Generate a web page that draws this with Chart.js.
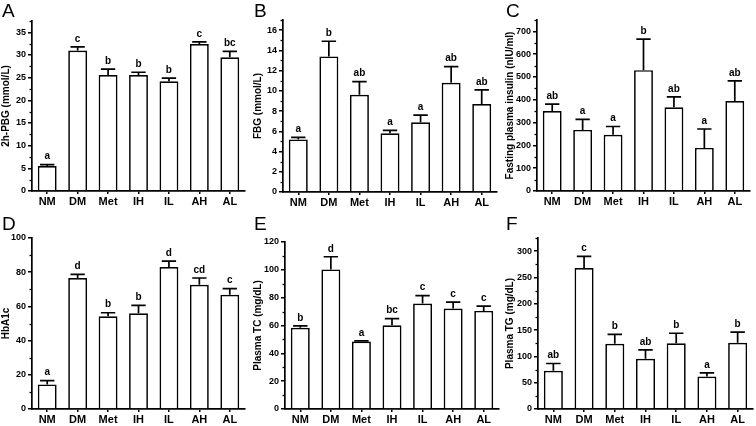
<!DOCTYPE html>
<html lang="en">
<head>
<meta charset="UTF-8">
<title>Panels</title>
<script src="https://cdn.jsdelivr.net/npm/chart.js"></script>
<style>
  body { margin: 0; background: #fff; }
  #wrap { position: relative; width: 756px; height: 426px; overflow: hidden; }
  .panel { position: absolute; width: 252px; height: 213px; }
  .tag { position: absolute; left: 2px; top: 0px; font: 19px "Liberation Sans", Arial, sans-serif; color: #000; }
</style>
</head>
<body>
<div id="wrap"></div>

<script>
// groups
var categories = ['NM', 'DM', 'Met', 'IH', 'IL', 'AH', 'AL'];

// A - 2h-PBG
var pbgMean = [5.5, 31.0, 25.6, 25.6, 24.2, 32.4, 29.5];
var pbgSem = [0.3, 0.8, 1.3, 0.6, 0.7, 0.5, 1.3];
var pbgLetters = ['a', 'c', 'b', 'b', 'b', 'c', 'bc'];

// B - FBG
var fbgMean = [5.2, 13.4, 9.6, 5.8, 6.9, 10.8, 8.7];
var fbgSem = [0.2, 1.5, 1.3, 0.3, 0.7, 1.6, 1.4];
var fbgLetters = ['a', 'b', 'ab', 'a', 'a', 'ab', 'ab'];

// C - fasting insulin
var insMean = [351, 268, 247, 530, 367, 189, 395];
var insSem = [30, 46, 36, 136, 46, 83, 88];
var insLetters = ['ab', 'a', 'a', 'b', 'ab', 'a', 'ab'];

// D - HbA1c
var hbaMean = [14.4, 76.6, 54.2, 56.0, 83.0, 72.7, 66.8];
var hbaSem = [2.2, 2.1, 2.1, 4.6, 3.5, 3.9, 3.6];
var hbaLetters = ['a', 'd', 'b', 'b', 'd', 'cd', 'c'];

// E - plasma TC
var tcMean = [58.3, 100.3, 48.5, 60.2, 75.8, 72.2, 70.5];
var tcSem = [1.5, 9.1, 0.5, 4.8, 5.6, 4.6, 3.4];
var tcLetters = ['b', 'd', 'a', 'bc', 'c', 'c', 'c'];

// F - plasma TG
var tgMean = [72.5, 268, 124, 95.4, 125, 61.7, 126];
var tgSem = [14, 22, 18, 17, 19, 7, 20];
var tgLetters = ['ab', 'c', 'b', 'ab', 'b', 'a', 'b'];

Chart.defaults.font.family = '"Liberation Sans", Arial, sans-serif';
Chart.defaults.color = '#000';

var panels = [
  { tag: 'A', x: 0,   y: 0,   title: '2h-PBG (mmol/L)', mean: pbgMean, sem: pbgSem, letters: pbgLetters,
    max: 37.5, step: 5, minor: 2.5, left: 32, right: 245, top: 21, bottom: 191 },
  { tag: 'B', x: 252, y: 0,   title: 'FBG (mmol/L)', mean: fbgMean, sem: fbgSem, letters: fbgLetters,
    max: 17, step: 2, minor: 1, left: 31, right: 245, top: 20, bottom: 192 },
  { tag: 'C', x: 504, y: 0,   title: 'Fasting plasma insulin (nIU/ml)', mean: insMean, sem: insSem, letters: insLetters,
    max: 750, step: 100, minor: 50, left: 33, right: 246, top: 20, bottom: 191 },
  { tag: 'D', x: 0,   y: 213, title: 'HbA1c', mean: hbaMean, sem: hbaSem, letters: hbaLetters,
    max: 100, step: 20, minor: 10, left: 32, right: 245, top: 25, bottom: 196 },
  { tag: 'E', x: 252, y: 213, title: 'Plasma TC (mg/dL)', mean: tcMean, sem: tcSem, letters: tcLetters,
    max: 120, step: 20, minor: 10, left: 33, right: 247, top: 29, bottom: 196 },
  { tag: 'F', x: 504, y: 213, title: 'Plasma TG (mg/dL)', mean: tgMean, sem: tgSem, letters: tgLetters,
    max: 325, step: 50, minor: 25, left: 34, right: 249, top: 25, bottom: 196 }
];

// error bars (upper only) + letters above them
var errorBars = {
  id: 'errorBars',
  afterDatasetsDraw: function (chart) {
    var ds = chart.data.datasets[0];
    var meta = chart.getDatasetMeta(0);
    var ys = chart.scales.y;
    var ctx = chart.ctx;
    ctx.save();
    ctx.strokeStyle = '#000';
    ctx.fillStyle = '#000';
    ctx.lineWidth = 1.7;
    ctx.font = 'bold 10px "Liberation Sans", Arial, sans-serif';
    ctx.textAlign = 'center';
    ctx.textBaseline = 'bottom';
    meta.data.forEach(function (bar, i) {
      var yTop = ys.getPixelForValue(ds.data[i] + ds.sem[i]);
      var half = bar.width * 0.38;
      ctx.beginPath();
      ctx.moveTo(bar.x, bar.y);
      ctx.lineTo(bar.x, yTop);
      ctx.moveTo(bar.x - half, yTop);
      ctx.lineTo(bar.x + half, yTop);
      ctx.stroke();
      ctx.fillText(ds.letters[i], bar.x, yTop - 3);
    });
    ctx.restore();
  }
};

// small minor ticks on the y axis
var minorTicks = {
  id: 'minorTicks',
  afterDraw: function (chart) {
    var ds = chart.data.datasets[0];
    var ys = chart.scales.y;
    var ctx = chart.ctx;
    var x = chart.chartArea.left;
    ctx.save();
    ctx.strokeStyle = '#000';
    ctx.lineWidth = 1.3;
    for (var v = ds.minor; v <= ys.max + 1e-6; v += ds.minor) {
      if (Math.abs(v / ds.step - Math.round(v / ds.step)) < 1e-6) continue;
      var py = Math.round(ys.getPixelForValue(v)) + 0.5;
      ctx.beginPath();
      ctx.moveTo(x, py);
      ctx.lineTo(x - 2.5, py);
      ctx.stroke();
    }
    ctx.restore();
  }
};

var wrap = document.getElementById('wrap');

panels.forEach(function (p) {
  var div = document.createElement('div');
  div.className = 'panel';
  div.style.left = p.x + 'px';
  div.style.top = p.y + 'px';
  var canvas = document.createElement('canvas');
  canvas.width = 252;
  canvas.height = 213;
  div.appendChild(canvas);
  var tag = document.createElement('div');
  tag.className = 'tag';
  tag.textContent = p.tag;
  div.appendChild(tag);
  wrap.appendChild(div);

  new Chart(canvas.getContext('2d'), {
    type: 'bar',
    data: {
      labels: categories,
      datasets: [{
        data: p.mean,
        sem: p.sem,
        letters: p.letters,
        minor: p.minor,
        step: p.step,
        backgroundColor: '#fff',
        borderColor: '#000',
        borderWidth: 1.7,
        borderSkipped: 'bottom',
        barPercentage: 0.62,
        categoryPercentage: 1
      }]
    },
    plugins: [errorBars, minorTicks],
    options: {
      responsive: false,
      animation: false,
      layout: { padding: { left: 0, top: p.top, right: 252 - p.right, bottom: 0 } },
      plugins: { legend: { display: false }, tooltip: { enabled: false } },
      scales: {
        x: {
          afterFit: function (s) { s.height = 213 - p.bottom; },
          grid: { offset: false, drawOnChartArea: false, drawTicks: true, tickLength: 3, color: '#000', lineWidth: 1.5 },
          border: { color: '#000', width: 1.7 },
          ticks: { padding: 1, font: { size: 11, weight: 'bold' }, maxRotation: 0 }
        },
        y: {
          min: 0,
          max: p.max,
          bounds: 'data',
          afterFit: function (s) { s.width = p.left; },
          afterBuildTicks: function (s) {
            s.ticks = s.ticks.filter(function (t) {
              return Math.abs(t.value / p.step - Math.round(t.value / p.step)) < 1e-6;
            });
          },
          grid: { drawOnChartArea: false, drawTicks: true, tickLength: 4, color: '#000', lineWidth: 1.5 },
          border: { color: '#000', width: 1.7 },
          ticks: { stepSize: p.step, padding: 2, font: { size: 9, weight: 'bold' } },
          title: { display: true, text: p.title, padding: 0, font: { size: 10, weight: 'bold' } }
        }
      }
    }
  });
});
</script>
</body>
</html>
